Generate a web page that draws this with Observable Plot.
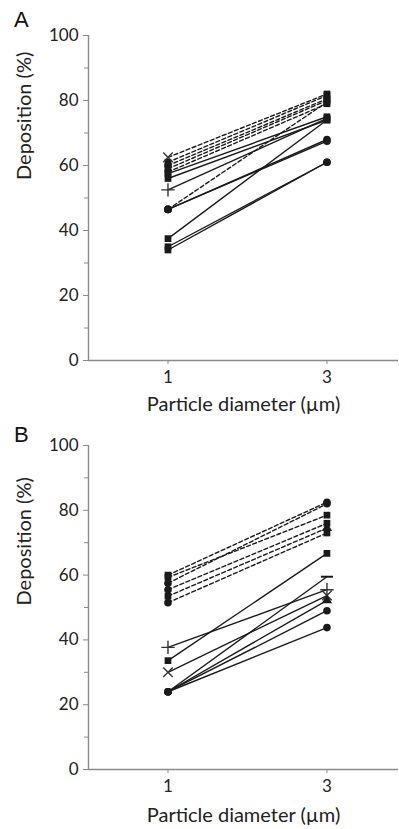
<!DOCTYPE html>
<html><head><meta charset="utf-8">
<script src="https://cdn.jsdelivr.net/npm/d3@7"></script>
<script src="https://cdn.jsdelivr.net/npm/@observablehq/plot@0.6"></script>
<style>
body{margin:0;background:#fff;font-family:Lato,"Open Sans",sans-serif;}
.panel{position:relative;width:399px;}
.lab{position:absolute;left:14px;font-family:"Liberation Sans",Arial,sans-serif;font-size:22px;color:#111;}
</style></head>
<body>
<div id="A" class="panel"><div class="lab" style="top:7px">A</div></div>
<div id="B" class="panel"><div class="lab" style="top:8px">B</div></div>
<script>
const xTicks = [1, 3];
const yTicks = [0, 20, 40, 60, 80, 100];
const yMinor = [10, 30, 50, 70, 90];
const xTitle = "Particle diameter (µm)";
const yTitle = "Deposition (%)";

// Panel A
const aDashedAt1 = [62.5, 61, 60, 59, 58, 46.5];
const aDashedAt3 = [82, 81.5, 80.5, 80, 79, 79.5];
const aDashedSym1 = ["times", "square", "circle", "square", "square", "circle"];
const aDashedSym3 = ["square", "square", "square", "square", "square", "square"];
const aSolidAt1 = [57.5, 56, 52.5, 46.5, 46.5, 37.5, 35, 34];
const aSolidAt3 = [75, 74, 74.5, 68, 67.5, 74, 61, 61];
const aSolidSym1 = ["square", "square", "plus", "circle", "circle", "square", "square", "square"];
const aSolidSym3 = ["square", "square", "square", "circle", "circle", "square", "circle", "circle"];

// Panel B
const bDashedAt1 = [60, 59.3, 57.5, 55.5, 53.5, 51.5];
const bDashedAt3 = [82.5, 78.5, 82, 76, 74.5, 73];
const bDashedSym1 = ["square", "square", "circle", "circle", "square", "circle"];
const bDashedSym3 = ["circle", "square", "circle", "square", "triangle", "square"];
const bSolidAt1 = [33.6, 24, 37.7, 30, 24, 24, 24];
const bSolidAt3 = [66.7, 59.5, 55.5, 53.7, 52.2, 49, 43.8];
const bSolidSym1 = ["square", "circle", "plus", "times", "circle", "circle", "circle"];
const bSolidSym3 = ["square", "dash", "plus", "times", "triangle", "circle", "circle"];

const dashSymbol = {draw(ctx, size) { const w = Math.sqrt(size) * 0.9; ctx.moveTo(-w, -1); ctx.lineTo(w, -1); ctx.lineTo(w, 1); ctx.lineTo(-w, 1); ctx.closePath(); }};

function rows(at1, at3, sym1, sym3, kind) {
  const out = [];
  at1.forEach((v, i) => {
    out.push({x: xTicks[0], y: v, s: kind + i, kind, sym: sym1[i]});
    out.push({x: xTicks[1], y: at3[i], s: kind + i, kind, sym: sym3[i]});
  });
  return out;
}

function panel(data, opt) {
  const symbols = ["square", "circle", "times", "plus", "triangle", "dash"];
  const dots = symbols.map(sy => Plot.dot(data.filter(d => d.sym === sy), {
    x: "x", y: "y",
    symbol: sy === "dash" ? dashSymbol : sy,
    r: sy === "times" || sy === "plus" ? 4.4 : 3.8,
    fill: sy === "times" || sy === "plus" ? "none" : "#1a1a1a",
    stroke: sy === "times" || sy === "plus" ? "#333" : "none",
    strokeWidth: 1.4
  }));
  return Plot.plot({
    width: 399, height: opt.height,
    marginLeft: 88, marginRight: 1, marginTop: opt.top, marginBottom: opt.bottom,
    style: {fontFamily: "Lato, sans-serif", color: "#222", background: "white"},
    x: {domain: [0, 3.9]},
    y: {domain: [0, 100]},
    marks: [
      Plot.line(data.filter(d => d.kind === "d"), {x: "x", y: "y", z: "s", stroke: "#1a1a1a", strokeWidth: 1.4, strokeDasharray: "4,2.5"}),
      Plot.line(data.filter(d => d.kind === "s"), {x: "x", y: "y", z: "s", stroke: "#1a1a1a", strokeWidth: 1.4}),
      ...dots,
      Plot.ruleX([0], {stroke: "#8a8a8a", strokeWidth: 1.4}),
      Plot.ruleY([0], {stroke: "#8a8a8a", strokeWidth: 1.4}),
      Plot.axisY(yTicks, {tickSize: 5, tickPadding: 5, fontSize: 17, stroke: "#8a8a8a", fill: "#222", label: null}),
      Plot.axisY(yMinor, {tickSize: 4, tickFormat: () => "", stroke: "#8a8a8a", label: null}),
      Plot.axisX(xTicks, {tickSize: 4, tickPadding: 6, fontSize: 17, stroke: "#8a8a8a", fill: "#222", label: null}),
      Plot.text([xTitle], {frameAnchor: "bottom", dy: opt.xdy, fontSize: 20, fill: "#222", text: d => d}),
      Plot.text([yTitle], {frameAnchor: "left", rotate: -90, dx: -64, dy: opt.ydy, fontSize: 20, fill: "#222", text: d => d})
    ]
  });
}

const dataA = [...rows(aDashedAt1, aDashedAt3, aDashedSym1, aDashedSym3, "d"), ...rows(aSolidAt1, aSolidAt3, aSolidSym1, aSolidSym3, "s")];
const dataB = [...rows(bDashedAt1, bDashedAt3, bDashedSym1, bDashedSym3, "d"), ...rows(bSolidAt1, bSolidAt3, bSolidSym1, bSolidSym3, "s")];

document.getElementById("A").append(panel(dataA, {height: 414, top: 35, bottom: 54, ydy: -18, xdy: 50}));
document.getElementById("B").append(panel(dataB, {height: 415, top: 31, bottom: 60, ydy: -2, xdy: 52}));
</script>
</body></html>
